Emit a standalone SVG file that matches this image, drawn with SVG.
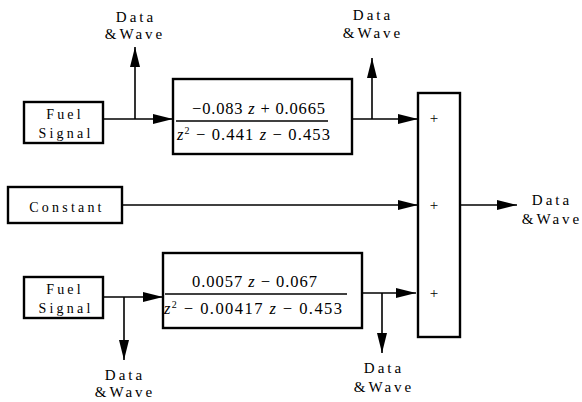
<svg xmlns="http://www.w3.org/2000/svg" width="582" height="402" viewBox="0 0 582 402">
<style>
.box{fill:#fff;stroke:#000;stroke-width:2.4}
.ln{fill:none;stroke:#000;stroke-width:1.6}
.lbl{font-family:'Liberation Serif','Times New Roman',serif;font-size:15px;letter-spacing:3px;text-anchor:middle;fill:#000}
.nd{font-family:'Liberation Serif','Times New Roman',serif;font-size:14px;letter-spacing:3.2px;text-anchor:middle;fill:#000}
.math{font-family:'Liberation Serif','Times New Roman',serif;font-size:16.5px;fill:#000}
.it{font-style:italic}
.plus{font-family:'Liberation Serif','Times New Roman',serif;font-size:15px;text-anchor:middle;fill:#000}
</style>
<defs>
<marker id="ah" markerWidth="20" markerHeight="10" refX="20" refY="5" orient="auto" markerUnits="userSpaceOnUse">
<path d="M0,0 L20,5 L0,10 Z" fill="#000"/>
</marker>
</defs>
<rect width="582" height="402" fill="#fff"/>
<g id="connectors">
<line class="ln" x1="103" y1="119" x2="173" y2="119" marker-end="url(#ah)"/>
<line class="ln" x1="135" y1="119" x2="135" y2="47" marker-end="url(#ah)"/>
<line class="ln" x1="352" y1="119" x2="418" y2="119" marker-end="url(#ah)"/>
<line class="ln" x1="372" y1="119" x2="372" y2="58" marker-end="url(#ah)"/>
<line class="ln" x1="122" y1="205" x2="418" y2="205" marker-end="url(#ah)"/>
<line class="ln" x1="460" y1="205" x2="517" y2="205" marker-end="url(#ah)"/>
<line class="ln" x1="103" y1="297" x2="163" y2="297" marker-end="url(#ah)"/>
<line class="ln" x1="124" y1="297" x2="124" y2="360" marker-end="url(#ah)"/>
<line class="ln" x1="362" y1="293" x2="416" y2="293" marker-end="url(#ah)"/>
<line class="ln" x1="382" y1="293" x2="382" y2="353" marker-end="url(#ah)"/>
</g>
<g id="fuel1">
<rect class="box" x="24" y="102" width="79" height="41"/>
<text class="nd" x="65" y="119">Fuel</text>
<text class="nd" x="66" y="138">Signal</text>
</g>
<g id="tf1">
<rect class="box" x="173" y="79" width="179" height="75"/>
<text class="math" x="192" y="114" textLength="133" lengthAdjust="spacing">−0.083 <tspan class="it">z</tspan> + 0.0665</text>
<line class="ln" x1="176" y1="121" x2="328" y2="121" stroke-width="1.3"/>
<text class="math" x="177" y="140" textLength="153" lengthAdjust="spacing"><tspan class="it">z</tspan><tspan font-size="10" dy="-6">2</tspan><tspan dy="6"> − 0.441 </tspan><tspan class="it">z</tspan> − 0.453</text>
</g>
<g id="constant">
<rect class="box" x="8" y="187" width="114" height="36"/>
<text class="nd" x="67" y="212">Constant</text>
</g>
<g id="fuel2">
<rect class="box" x="24" y="277" width="79" height="41"/>
<text class="nd" x="65" y="294">Fuel</text>
<text class="nd" x="66" y="313">Signal</text>
</g>
<g id="tf2">
<rect class="box" x="163" y="253" width="199" height="75"/>
<text class="math" x="192" y="287" textLength="125" lengthAdjust="spacing">0.0057 <tspan class="it">z</tspan> − 0.067</text>
<line class="ln" x1="165" y1="294" x2="347" y2="294" stroke-width="1.3"/>
<text class="math" x="164" y="314" textLength="178" lengthAdjust="spacing"><tspan class="it">z</tspan><tspan font-size="10" dy="-6">2</tspan><tspan dy="6"> − 0.00417 </tspan><tspan class="it">z</tspan> − 0.453</text>
</g>
<g id="sum">
<rect class="box" x="418" y="93" width="42" height="244"/>
<text class="plus" x="434" y="123">+</text>
<text class="plus" x="434" y="210">+</text>
<text class="plus" x="434" y="298">+</text>
</g>
<g id="labels">
<text class="lbl" x="136" y="22">Data</text>
<text class="lbl" x="135" y="39">&amp;Wave</text>
<text class="lbl" x="373" y="20">Data</text>
<text class="lbl" x="373" y="38">&amp;Wave</text>
<text class="lbl" x="552" y="205">Data</text>
<text class="lbl" x="552" y="224">&amp;Wave</text>
<text class="lbl" x="125" y="380">Data</text>
<text class="lbl" x="125" y="397">&amp;Wave</text>
<text class="lbl" x="384" y="373">Data</text>
<text class="lbl" x="384" y="392">&amp;Wave</text>
</g>
</svg>
